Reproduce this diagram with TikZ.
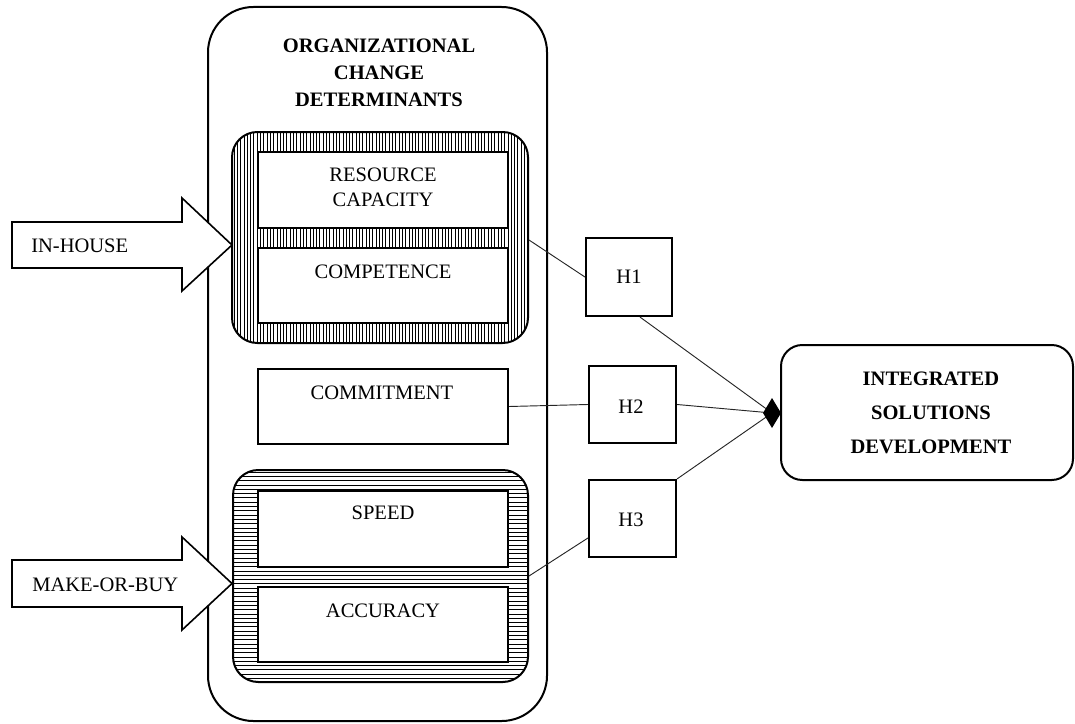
\documentclass[tikz,border=0pt]{standalone}
\usepackage{fontspec}
\setmainfont{Liberation Serif}
\usetikzlibrary{calc}
\begin{document}
\begin{tikzpicture}[x=0.75pt,y=-0.75pt,
  outerbox/.style={draw, line width=1.5pt, inner sep=0pt},
  box/.style={draw, line width=1.6pt, minimum width=250*0.75pt, inner sep=0pt, fill=white},
  hbox/.style={draw, line width=1.6pt, inner sep=0pt, fill=white},
  lbl/.style={font=\fontsize{15.4}{18.75}\selectfont, inner sep=0pt, align=center},
  blbl/.style={font=\fontsize{15.4}{20.25}\selectfont\bfseries, inner sep=0pt, align=center},
  conn/.style={line width=0.7pt, black!85},
  hatch/.style={line width=0.55pt},
  bigarrow/.style={draw, line width=1.2pt, fill=white, line join=miter}
]
\useasboundingbox (0,0) rectangle (1075,724);

% outer container
\node[outerbox, rounded corners=34pt, minimum width=339*0.75pt, minimum height=714*0.75pt] (org) at (377.5,364) {};
\node[blbl] (orgt) at (379,73) {ORGANIZATIONAL\\CHANGE\\DETERMINANTS};

% upper hatched group (vertical lines)
\begin{scope}
  \clip[rounded corners=19pt] (232,132) rectangle (528,343);
  \foreach \x in {234,237.3,...,528} {\draw[hatch] (\x,132) -- (\x,343);}
\end{scope}
\node[outerbox, rounded corners=19pt, minimum width=296*0.75pt, minimum height=211*0.75pt] (grpA) at (380,237.5) {};

% lower hatched group (horizontal lines)
\begin{scope}
  \clip[rounded corners=19pt] (233,470) rectangle (528,682);
  \foreach \y in {472,476.3,...,682} {\draw[hatch] (233,\y) -- (528,\y);}
\end{scope}
\node[outerbox, rounded corners=19pt, minimum width=295*0.75pt, minimum height=212*0.75pt] (grpB) at (380.5,576) {};

% inner boxes
\node[box, minimum height=76*0.75pt] (res) at (383,190) {};
\node[lbl] (rest) at (383,187.5) {RESOURCE\\CAPACITY};
\node[box, minimum height=75*0.75pt] (comp) at (383,285.5) {};
\node[lbl] (compt) at (383,272) {COMPETENCE};
\node[box, minimum height=75*0.75pt] (commit) at (383,406.5) {};
\node[lbl] (committ) at (382,393) {COMMITMENT};
\node[box, minimum height=76*0.75pt] (speed) at (383,529) {};
\node[lbl] (speedt) at (383,513) {SPEED};
\node[box, minimum height=75*0.75pt] (acc) at (383,624.5) {};
\node[lbl] (acct) at (383,611) {ACCURACY};

% hypothesis boxes
\node[hbox, minimum width=86*0.75pt, minimum height=78*0.75pt] (H1) at (629,277) {};
\node[lbl] (H1t) at (629,277) {H1};
\node[hbox, minimum width=87*0.75pt, minimum height=77*0.75pt] (H2) at (632.5,404.5) {};
\node[lbl] (H2t) at (631,407) {H2};
\node[hbox, minimum width=87*0.75pt, minimum height=77*0.75pt] (H3) at (632.5,518.5) {};
\node[lbl] (H3t) at (631,520) {H3};

% outcome box
\node[outerbox, rounded corners=16pt, minimum width=292*0.75pt, minimum height=135*0.75pt] (isd) at (927,412.5) {};
\node[font=\fontsize{15.4}{25.5}\selectfont\bfseries, inner sep=0pt, align=center] (isdt) at (931,413) {INTEGRATED\\SOLUTIONS\\DEVELOPMENT};

\coordinate (dia) at (772,413);

% connectors
\draw[conn] (grpA.east |- 0,240) -- (H1.west);
\draw[conn] ($(H1.south)+(11,0)$) -- (dia);
\draw[conn] (commit.east) -- (H2.west);
\draw[conn] (H2.east) -- (dia);
\draw[conn] (grpB.east) -- ($(H3.west)+(0,19.5)$);
\draw[conn] (H3.north east) -- (dia);
\fill (dia) ++(-9,0) -- ++(9,-15) -- ++(9,15) -- ++(-9,15) -- cycle;

% input arrows
\draw[bigarrow] (12,222) -- (182,222) -- (182,198) -- (232,245) -- (182,291) -- (182,268) -- (12,268) -- cycle;
\node[lbl, anchor=west] (inh) at (31,246) {IN-HOUSE};
\draw[bigarrow] (12,560) -- (182,560) -- (182,537) -- (232,583.5) -- (182,630) -- (182,607) -- (12,607) -- cycle;
\node[lbl, anchor=west] (mob) at (32,585) {MAKE-OR-BUY};
\end{tikzpicture}
\end{document}
